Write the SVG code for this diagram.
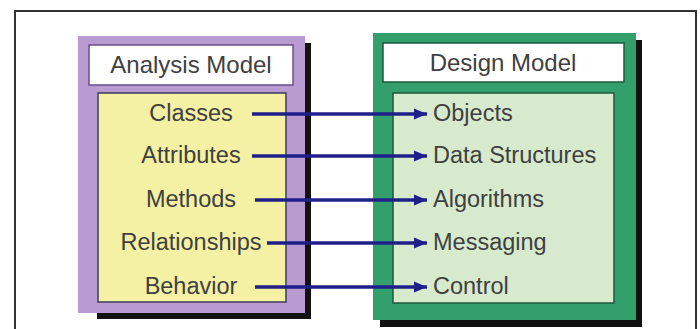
<svg xmlns="http://www.w3.org/2000/svg" width="700" height="329" viewBox="0 0 700 329">
<style>
text{font-family:"Liberation Sans",Arial,sans-serif;fill:#404040;}
.hdr{font-size:24px;text-anchor:middle;}
.item{font-size:23.5px;}
.l{text-anchor:middle;}
.conn line{stroke:#1f1f8a;stroke-width:3.5;marker-end:url(#ah);}
.shadow{fill:#111;}
</style>
<defs>
<marker id="ah" markerUnits="userSpaceOnUse" markerWidth="14" markerHeight="12" refX="13" refY="6" orient="auto">
<path d="M0,0.5 L13,6 L0,11.5 Z" fill="#1f1f8a"/>
</marker>
</defs>
<rect x="0" y="0" width="700" height="329" fill="#ffffff"/>
<rect x="15" y="11" width="681" height="340" fill="none" stroke="#333" stroke-width="2"/>
<g id="analysis-model">
<rect class="shadow" x="97" y="43" width="214" height="276"/>
<rect x="78" y="36" width="227" height="277" fill="#b99bd1"/>
<rect x="89" y="45" width="204" height="40" fill="#ffffff" stroke="#6a4f8a" stroke-width="1.5"/>
<text class="hdr" x="191" y="73">Analysis Model</text>
<rect x="98" y="93" width="188" height="209" fill="#f4f0a4" stroke="#3d3a5a" stroke-width="1.5"/>
<text class="item l" x="191" y="121">Classes</text>
<text class="item l" x="191" y="163">Attributes</text>
<text class="item l" x="191" y="207">Methods</text>
<text class="item l" x="191" y="250">Relationships</text>
<text class="item l" x="191" y="294">Behavior</text>
</g>
<g id="design-model">
<rect class="shadow" x="380" y="40" width="262" height="287"/>
<rect x="373" y="33" width="263" height="287" fill="#33a06b"/>
<rect x="383" y="43" width="241" height="39" fill="#ffffff" stroke="#1d5a3c" stroke-width="1.5"/>
<text class="hdr" x="503" y="71">Design Model</text>
<rect x="393" y="93" width="221" height="210" fill="#d7eacd" stroke="#1d5a3c" stroke-width="1.5"/>
<text class="item" x="433" y="121">Objects</text>
<text class="item" x="433" y="163">Data Structures</text>
<text class="item" x="433" y="207">Algorithms</text>
<text class="item" x="433" y="250">Messaging</text>
<text class="item" x="433" y="294">Control</text>
</g>
<g id="connectors" class="conn">
<line x1="252" y1="114" x2="427" y2="114"/>
<line x1="252" y1="156" x2="427" y2="156"/>
<line x1="255" y1="200" x2="427" y2="200"/>
<line x1="267" y1="243" x2="427" y2="243"/>
<line x1="255" y1="287" x2="427" y2="287"/>
</g>
</svg>
